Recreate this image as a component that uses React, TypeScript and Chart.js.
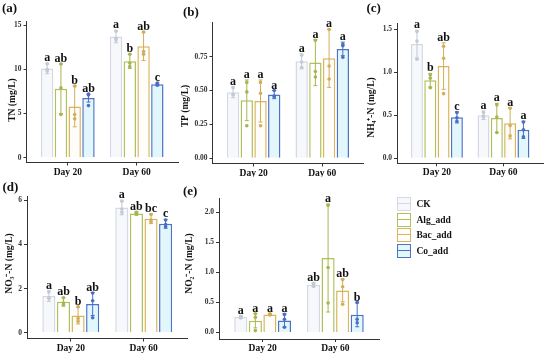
import React, { useEffect, useRef } from 'react';
import { Chart, registerables } from 'chart.js';
Chart.register(...registerables);

const DAYS = ['Day 20', 'Day 60'];
const SERIES = ['CK', 'Alg_add', 'Bac_add', 'Co_add'];
const BORDER = ['#d3d9e5', '#aec259', '#d8b55e', '#4e72c6'];
const FILL = ['#f6f8fb', '#ffffff', '#fffdfa', '#e1f7fc'];
const MARK = ['#c3c9d6', '#a9b550', '#d3ad58', '#4b6ec4'];

// (a) TN  — rows: CK, Alg_add, Bac_add, Co_add ; cols: Day 20, Day 60
const TN_MEAN = [[10.1, 13.7], [7.8, 10.9], [5.8, 12.6], [6.75, 8.3]];
const TN_SD = [[0.6, 0.7], [2.8, 0.8], [2.3, 1.6], [0.45, 0.15]];
const TN_PTS = [
  [[10.6, 10.0, 9.8], [14.3, 13.3, 13.5]],
  [[10.6, 7.9, 4.9], [11.7, 10.7, 10.3]],
  [[8.1, 4.9, 4.4], [14.2, 12.0, 11.7]],
  [[7.2, 7.1, 5.9], [8.45, 8.3, 8.2]],
];
const TN_LET = [['a', 'a'], ['ab', 'b'], ['b', 'ab'], ['ab', 'c']];
const TN_TICKS = [0, 5, 10, 15];

// (b) TP
const TP_MEAN = [[0.487, 0.715], [0.428, 0.706], [0.423, 0.738], [0.47, 0.807]];
const TP_SD = [[0.04, 0.055], [0.15, 0.17], [0.155, 0.215], [0.03, 0.05]];
const TP_PTS = [
  [[0.52, 0.47, 0.47], [0.76, 0.71, 0.67]],
  [[0.56, 0.49, 0.24], [0.87, 0.64, 0.6]],
  [[0.56, 0.48, 0.24], [0.95, 0.68, 0.585]],
  [[0.5, 0.46, 0.455], [0.84, 0.83, 0.745]],
];
const TP_LET = [['a', 'a'], ['a', 'a'], ['a', 'a'], ['a', 'a']];
const TP_TICKS = [0, 0.25, 0.5, 0.75];

// (c) NH4+-N
const NH_MEAN = [[1.326, 0.5], [0.905, 0.468], [1.07, 0.406], [0.475, 0.33]];
const NH_SD = [[0.16, 0.05], [0.08, 0.17], [0.27, 0.18], [0.065, 0.1]];
const NH_PTS = [
  [[1.47, 1.36, 1.15], [0.53, 0.49, 0.48]],
  [[0.97, 0.93, 0.82], [0.62, 0.48, 0.3]],
  [[1.3, 1.16, 0.75], [0.58, 0.38, 0.26]],
  [[0.53, 0.47, 0.43], [0.42, 0.33, 0.25]],
];
const NH_LET = [['a', 'a'], ['b', 'a'], ['ab', 'a'], ['c', 'a']];
const NH_TICKS = [0, 0.5, 1.0, 1.5];

// (d) NO3--N
const NO3_MEAN = [[1.66, 5.67], [1.4, 5.4], [0.78, 5.16], [1.3, 4.93]];
const NO3_SD = [[0.24, 0.33], [0.2, 0.08], [0.38, 0.22], [0.52, 0.2]];
const NO3_PTS = [
  [[1.85, 1.58, 1.55], [5.95, 5.6, 5.45]],
  [[1.58, 1.35, 1.28], [5.45, 5.4, 5.37]],
  [[1.18, 0.65, 0.52], [5.35, 5.1, 5.02]],
  [[1.8, 1.45, 0.68], [5.1, 4.9, 4.8]],
];
const NO3_LET = [['a', 'a'], ['ab', 'ab'], ['b', 'bc'], ['ab', 'c']];
const NO3_TICKS = [0, 2, 4, 6];

// (e) NO2--N
const NO2_MEAN = [[0.256, 0.794], [0.195, 1.24], [0.3, 0.7], [0.2, 0.294]];
const NO2_SD = [[0.022, 0.036], [0.12, 0.9], [0.012, 0.19], [0.11, 0.2]];
const NO2_PTS = [
  [[0.27, 0.26, 0.24], [0.82, 0.79, 0.77]],
  [[0.31, 0.25, 0.03], [2.12, 1.08, 0.49]],
  [[0.31, 0.3, 0.29], [0.88, 0.76, 0.47]],
  [[0.3, 0.22, 0.085], [0.5, 0.22, 0.16]],
];
const NO2_LET = [['a', 'ab'], ['a', 'a'], ['a', 'ab'], ['a', 'b']];
const NO2_TICKS = [0, 0.5, 1.0, 1.5, 2.0];

const SERIF = '"Liberation Serif", "Times New Roman", serif';

type Panel = {
  label: string; title: string;
  mean: number[][]; sd: number[][]; pts: number[][][]; lets: string[][];
  ticks: number[]; dec: number; min: number; max: number;
  cx: number; cy: number; cw: number; ch: number;
  L: number; R: number; T: number; B: number;
  tx: number; ty: number; lx: number; ly: number;
};

const PANELS: Panel[] = [
  { label: '(a)', title: 'TN (mg/L)', mean: TN_MEAN, sd: TN_SD, pts: TN_PTS, lets: TN_LET, ticks: TN_TICKS, dec: 0,
    min: -0.53, max: 15.4, cx: 0, cy: 0, cw: 180, ch: 177, L: 26.5, R: 178, T: 21.5, B: 162.5, tx: 12.7, ty: 100, lx: 2, ly: 9 },
  { label: '(b)', title: 'TP (mg/L)', mean: TP_MEAN, sd: TP_SD, pts: TP_PTS, lets: TP_LET, ticks: TP_TICKS, dec: 2,
    min: -0.038, max: 1.0, cx: 180, cy: 0, cw: 185, ch: 177, L: 212.5, R: 363.4, T: 22.7, B: 163.5, tx: 186, ty: 106, lx: 183, ly: 13 },
  { label: '(c)', title: 'NH\u2084\u207A-N (mg/L)', mean: NH_MEAN, sd: NH_SD, pts: NH_PTS, lets: NH_LET, ticks: NH_TICKS, dec: 1,
    min: -0.058, max: 1.564, cx: 365, cy: 0, cw: 185, ch: 177, L: 397, R: 543.4, T: 23.5, B: 163.3, tx: 371.5, ty: 107.5, lx: 366.5, ly: 9 },
  { label: '(d)', title: 'NO\u2083\u207B-N (mg/L)', mean: NO3_MEAN, sd: NO3_SD, pts: NO3_PTS, lets: NO3_LET, ticks: NO3_TICKS, dec: 0,
    min: -0.26, max: 6.19, cx: 0, cy: 170, cw: 192, ch: 184, L: 27, R: 187.5, T: 196, B: 338.5, tx: 9.3, ty: 263.5, lx: 2.5, ly: 187.5 },
  { label: '(e)', title: 'NO\u2082\u207B-N (mg/L)', mean: NO2_MEAN, sd: NO2_SD, pts: NO2_PTS, lets: NO2_LET, ticks: NO2_TICKS, dec: 1,
    min: -0.11, max: 2.24, cx: 182, cy: 170, cw: 200, ch: 184, L: 219, R: 379, T: 198, B: 339, tx: 189.3, ty: 263.5, lx: 183, ly: 191.5 },
];

function makeOverlay(p: Panel) {
  return {
    id: 'overlay',
    afterDatasetsDraw(chart: any) {
      const ctx = chart.ctx as CanvasRenderingContext2D;
      const ys = chart.scales.y;
      ctx.save();
      SERIES.forEach((_, si) => {
        const meta = chart.getDatasetMeta(si);
        p.mean[si].forEach((m, di) => {
          const el = meta.data[di];
          const x = el.x;
          const top = ys.getPixelForValue(m + p.sd[si][di]);
          const bot = ys.getPixelForValue(Math.max(0, m - p.sd[si][di]));
          ctx.strokeStyle = MARK[si];
          ctx.lineWidth = 1;
          ctx.beginPath();
          ctx.moveTo(x, top); ctx.lineTo(x, bot);
          ctx.moveTo(x - 2, top); ctx.lineTo(x + 2, top);
          ctx.moveTo(x - 2, bot); ctx.lineTo(x + 2, bot);
          ctx.stroke();
          ctx.fillStyle = MARK[si];
          p.pts[si][di].forEach((v) => {
            ctx.beginPath();
            ctx.arc(x, ys.getPixelForValue(v), 1.8, 0, Math.PI * 2);
            ctx.fill();
          });
          ctx.fillStyle = '#111';
          ctx.font = `bold 12px ${SERIF}`;
          ctx.textAlign = 'center';
          ctx.textBaseline = 'alphabetic';
          ctx.fillText(p.lets[si][di], x, top - 2);
        });
      });
      ctx.restore();
    },
    afterDraw(chart: any) {
      const ctx = chart.ctx as CanvasRenderingContext2D;
      ctx.save();
      ctx.fillStyle = '#111';
      ctx.translate(p.tx - p.cx, p.ty - p.cy);
      ctx.rotate(-Math.PI / 2);
      ctx.font = `bold 9.5px ${SERIF}`;
      ctx.textAlign = 'center';
      ctx.textBaseline = 'middle';
      ctx.fillText(p.title, 0, 0);
      ctx.restore();
      ctx.save();
      ctx.fillStyle = '#111';
      ctx.font = `bold 13px ${SERIF}`;
      ctx.textAlign = 'left';
      ctx.textBaseline = 'middle';
      ctx.fillText(p.label, p.lx - p.cx, p.ly - p.cy);
      ctx.restore();
    },
  };
}

function PanelChart({ p }: { p: Panel }) {
  const ref = useRef<HTMLCanvasElement>(null);
  useEffect(() => {
    if (!ref.current) return;
    const yW = p.L - p.cx;
    const xH = p.cy + p.ch - p.B;
    const padT = p.T - p.cy;
    const padR = p.cx + p.cw - p.R;
    const chart = new Chart(ref.current, {
      type: 'bar',
      data: {
        datasets: SERIES.map((name, si) => ({
          label: name,
          data: p.mean[si].map((v, di) => ({ x: di + 1, y: v })),
          backgroundColor: FILL[si],
          borderColor: BORDER[si],
          borderWidth: 1.5,
          categoryPercentage: 0.8,
          barPercentage: 0.9,
        })),
      },
      options: {
        animation: false,
        responsive: false,
        maintainAspectRatio: false,
        layout: { padding: { left: 0, top: padT, right: padR, bottom: 0 } },
        plugins: { legend: { display: false }, tooltip: { enabled: false } },
        scales: {
          x: {
            type: 'linear',
            min: 0.4,
            max: 2.6,
            offset: false,
            afterBuildTicks: (s: any) => { s.ticks = DAYS.map((_, i) => ({ value: i + 1 })); },
            afterFit: (s: any) => { s.height = xH; },
            grid: { display: true, drawOnChartArea: false, drawTicks: true, tickLength: 3, color: '#333', offset: false },
            border: { display: true, color: '#333', width: 1 },
            ticks: {
              autoSkip: false,
              maxRotation: 0,
              padding: 1,
              color: '#111',
              font: { family: SERIF, weight: 'bold', size: 9.5 },
              callback: (v: any) => DAYS[Math.round(v) - 1] ?? '',
            },
          },
          y: {
            type: 'linear',
            min: p.min,
            max: p.max,
            afterBuildTicks: (s: any) => { s.ticks = p.ticks.map((v) => ({ value: v })); },
            afterFit: (s: any) => { s.width = yW; },
            grid: { display: true, drawOnChartArea: false, drawTicks: true, tickLength: 3, color: '#333' },
            border: { display: true, color: '#333', width: 1 },
            ticks: {
              padding: 2,
              color: '#333',
              font: { family: SERIF, weight: 'bold', size: 7.5 },
              callback: (v: any) => Number(v).toFixed(p.dec),
            },
          },
        },
      } as any,
      plugins: [makeOverlay(p)],
    });
    return () => chart.destroy();
  }, [p]);
  return (
    <canvas
      ref={ref}
      width={p.cw}
      height={p.ch}
      style={{ position: 'absolute', left: p.cx, top: p.cy, width: p.cw, height: p.ch }}
    />
  );
}

const LEG_Y = [204, 219.5, 235, 250.5];

export default function App() {
  return (
    <div style={{ position: 'absolute', left: 0, top: 0, width: 550, height: 354, background: '#fff', overflow: 'hidden' }}>
      {PANELS.map((p) => <PanelChart key={p.label} p={p} />)}
      {SERIES.map((name, i) => (
        <React.Fragment key={name}>
          <div style={{
            position: 'absolute', left: 397, top: LEG_Y[i] - 7, width: 14, height: 14, boxSizing: 'border-box',
            border: `1.5px solid ${BORDER[i]}`, background: FILL[i],
          }}>
            <div style={{ position: 'absolute', left: 0, right: 0, top: 5, height: 1, background: BORDER[i] }} />
          </div>
          <div style={{
            position: 'absolute', left: 416.5, top: LEG_Y[i] - 7, height: 14, lineHeight: '14px',
            fontFamily: SERIF, fontWeight: 'bold', fontSize: 9.5, color: '#111', whiteSpace: 'nowrap',
          }}>{name}</div>
        </React.Fragment>
      ))}
    </div>
  );
}
